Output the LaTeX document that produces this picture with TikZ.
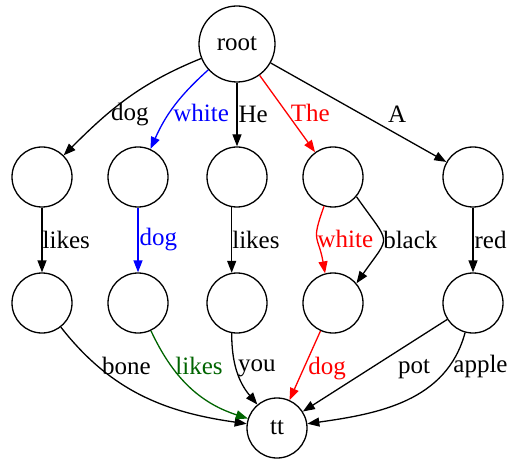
\documentclass[tikz,border=0pt]{standalone}
\usepackage{fontspec}
\setmainfont{Liberation Serif}
\usepackage{tikz}
\usetikzlibrary{arrows.meta}

\definecolor{dgreen}{RGB}{0,100,0}

\begin{document}
\begin{tikzpicture}[x=1bp, y=1bp, line width=1.3bp,
  state/.style={circle, draw, minimum size=60bp, inner sep=0pt},
  tip/.style={-{Triangle[length=12bp,width=9bp]}},
  lab/.style={inner sep=0pt, anchor=west},
  font=\fontsize{25bp}{30bp}\selectfont]
\useasboundingbox (0,0) rectangle (508,-459);

\node[state, minimum size=76bp] (root) at (237,-44) {root};
\node[state] (n1) at (42,-177) {};
\node[state] (n2) at (138,-177) {};
\node[state] (n3) at (237,-177) {};
\node[state] (n4) at (333,-177) {};
\node[state] (n5) at (473,-177) {};
\node[state] (m1) at (42,-303) {};
\node[state] (m2) at (138,-303) {};
\node[state] (m3) at (237,-303) {};
\node[state] (m4) at (333,-303) {};
\node[state] (m5) at (473,-303) {};
\node[state] (tt) at (277,-428) {tt};

\draw[tip] (root) to[out=202,in=45] node[pos=0.66, anchor=west] {dog} (n1);
\draw[tip, blue] (root) to[out=222,in=66] node[pos=0.6, anchor=west] {white} (n2);
\draw[tip] (root) -- node[lab, inner sep=1bp] {He} (n3);
\draw[tip, red] (root) -- node[pos=0.49, anchor=west] {The} (n4);
\draw[tip] (root) -- node[pos=0.72, above=8bp] {A} (n5);

\draw[tip] (n1) -- node[lab] {likes} (m1);
\draw[tip, blue] (n2) -- node[lab, inner sep=1bp] {dog} (m2);
\draw[tip] (n3.260) -- node[lab] {likes} (m3.100);
\draw[tip, red] (n4.253) to[out=250,in=100,looseness=1.5] node[lab] {white} (m4.105);
\draw[tip] (n4.-40) to[out=-55,in=55,looseness=1.8] node[lab] {black} (m4.40);
\draw[tip] (n5) -- node[lab, inner sep=1bp] {red} (m5);

\draw[tip] (m1) to[out=-52,in=172] node[pos=0.24, anchor=west] {bone} (tt);
\draw[tip, dgreen] (m2) to[out=-65,in=162] node[pos=0.29, anchor=west] {likes} (tt);
\draw[tip] (m3.260) to[out=270,in=130] node[lab, pos=0.46, inner sep=1bp] {you} (tt);
\draw[tip, red] (m4) -- node[pos=0.54, anchor=west, inner sep=4bp] {dog} (tt);
\draw[tip] (m5) -- node[pos=0.23, below=15bp] {pot} (tt);
\draw[tip] (m5.255) to[out=255,in=8] node[pos=0.19, anchor=west] {apple} (tt);
\end{tikzpicture}
\end{document}
